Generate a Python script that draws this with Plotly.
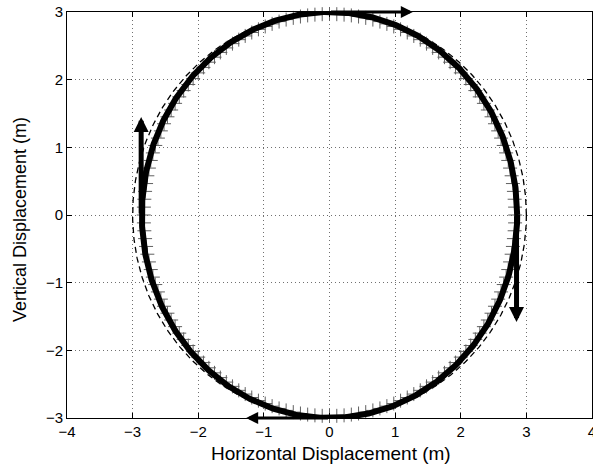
import numpy as np
import plotly.graph_objects as go

# Tick values
x_ticks = [-4, -3, -2, -1, 0, 1, 2, 3, 4]
y_ticks = [-3, -2, -1, 0, 1, 2, 3]

# Reference circle (dashed) radii
ref_radius_x = 3.0
ref_radius_y = 3.0
# Actual trajectory (thick solid) radii
traj_radius_x = 2.86
traj_radius_y = 3.0
# Sampled points (+ markers) radii and count
sample_radius_x = 2.83
sample_radius_y = 2.97
n_samples = 160

# Direction arrows: tail -> tip
arrow_tail_x = [0.0, -2.87, 2.85, 0.0]
arrow_tail_y = [3.0, 0.0, 0.0, -3.0]
arrow_tip_x = [1.27, -2.87, 2.85, -1.27]
arrow_tip_y = [3.0, 1.45, -1.58, -3.0]
arrow_widths = [3, 5, 5, 3]

x_title = "Horizontal Displacement (m)"
y_title = "Vertical Displacement (m)"

theta = np.linspace(0, 2 * np.pi, 721)
theta_s = np.linspace(0, 2 * np.pi, n_samples, endpoint=False)

FONT = "Liberation Sans, Arial, Helvetica, sans-serif"

W, H = 593, 464
ML, MR, MT, MB = 67, 1, 12, 46
PW, PH = W - ML - MR, H - MT - MB

fig = go.Figure()

fig.add_trace(go.Scatter(
    x=ref_radius_x * np.cos(theta), y=ref_radius_y * np.sin(theta),
    mode="lines", line=dict(color="black", width=1.3, dash="6px,4px"),
    showlegend=False, hoverinfo="skip"))

fig.add_trace(go.Scatter(
    x=sample_radius_x * np.cos(theta_s), y=sample_radius_y * np.sin(theta_s),
    mode="markers", cliponaxis=False,
    marker=dict(symbol="cross-thin", size=10, color="#606060",
                line=dict(color="#606060", width=1)),
    showlegend=False, hoverinfo="skip"))

fig.add_trace(go.Scatter(
    x=traj_radius_x * np.cos(theta), y=traj_radius_y * np.sin(theta),
    mode="lines", line=dict(color="black", width=6),
    showlegend=False, hoverinfo="skip"))

for tx, ty, hx, hy, w in zip(arrow_tail_x, arrow_tail_y, arrow_tip_x, arrow_tip_y, arrow_widths):
    fig.add_annotation(
        x=hx, y=hy, ax=tx, ay=ty, xref="x", yref="y", axref="x", ayref="y",
        text="", showarrow=True, arrowhead=2, arrowsize=0.6 if w > 4 else 0.8,
        arrowwidth=w, arrowcolor="black", standoff=0, startstandoff=0)

# Axis titles placed at the reference positions
fig.add_annotation(
    text=x_title, xref="paper", yref="paper", x=(331 - ML) / PW,
    y=-(453 - (H - MB)) / PH, xanchor="center", yanchor="middle",
    showarrow=False, font=dict(family=FONT, size=19, color="black"))
fig.add_annotation(
    text=y_title, xref="paper", yref="paper", x=-(ML - 20) / PW,
    y=(H - MB - 220) / PH, xanchor="center", yanchor="middle", textangle=-90,
    showarrow=False, font=dict(family=FONT, size=18, color="black"))

axis_common = dict(
    showline=True, linecolor="black", linewidth=1, mirror="ticks",
    ticks="inside", ticklen=5, tickcolor="black", tickwidth=1,
    showgrid=True, gridcolor="#707070", gridwidth=1, griddash="1px,3px",
    zeroline=False, tickfont=dict(family=FONT, size=15, color="black"),
    automargin=False, ticklabeloverflow="allow",
)

fig.update_xaxes(range=[-4, 4], tickvals=x_ticks, **axis_common)
fig.update_yaxes(range=[-3, 3], tickvals=y_ticks, **axis_common)

fig.update_layout(
    width=W, height=H,
    margin=dict(l=ML, r=MR, t=MT, b=MB),
    paper_bgcolor="white", plot_bgcolor="white",
    showlegend=False,
)

fig.write_html("out.html", config={"displayModeBar": False},
               post_script="document.body.style.margin='0';")
